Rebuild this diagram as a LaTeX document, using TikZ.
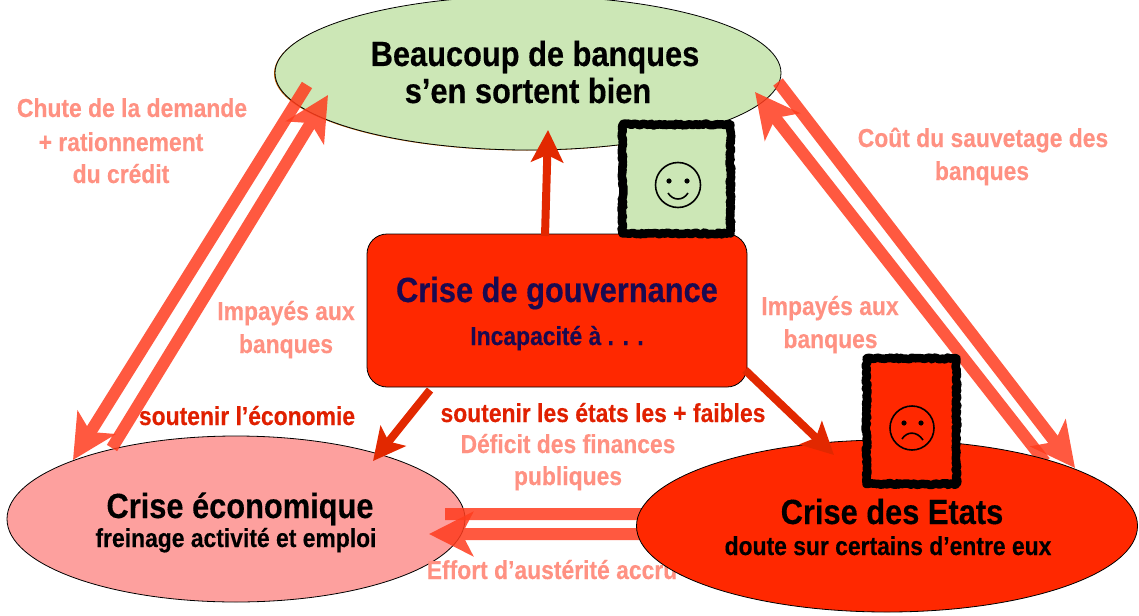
\documentclass[tikz,border=0pt]{standalone}
\usepackage{fontspec}
\setmainfont[FakeStretch=0.88,BoldFeatures={FakeBold=0.3}]{Liberation Sans}
\usetikzlibrary{arrows.meta,shapes.geometric,decorations.pathmorphing}
\definecolor{palearrow}{RGB}{255,60,30}
\definecolor{darkarrow}{RGB}{226,40,0}
\definecolor{paletext}{RGB}{255,145,130}
\definecolor{redtext}{RGB}{224,32,0}
\definecolor{navytext}{RGB}{26,10,80}
\definecolor{leaf}{RGB}{204,231,182}
\definecolor{blush}{RGB}{253,160,158}
\definecolor{alarm}{RGB}{255,40,0}
\tikzset{
  bubble/.style={ellipse,draw=black,line width=0.8pt,inner sep=0pt},
  palelabel/.style={anchor=base,inner sep=0pt,text=paletext,font=\fontsize{26}{26}\selectfont\bfseries},
  redlabel/.style={anchor=base,inner sep=0pt,text=redtext,font=\fontsize{26}{26}\selectfont\bfseries},
  title/.style={anchor=base,inner sep=0pt,text=black,font=\fontsize{35}{35}\selectfont\bfseries},
  subtitle/.style={anchor=base,inner sep=0pt,text=black,font=\fontsize{26}{26}\selectfont\bfseries},
  flowgroup/.style={transparency group,opacity=0.85},
  flow/.style={draw=palearrow,line width=12pt,
    -{Stealth[length=44pt,width=44pt,inset=11pt]}},
  push/.style={draw=darkarrow,line width=8pt,
    -{Stealth[length=32pt,width=32pt,inset=7pt]}},
  roughbox/.style={draw=black,line width=8.5pt,line join=round,
    decorate,decoration={random steps,segment length=2pt,amplitude=1pt}},
  facepart/.style={draw=black,line width=1.6pt}
}
\begin{document}
\begin{tikzpicture}[x=1pt,y=-1pt]
\useasboundingbox (0,0) rectangle (1139,615);
% ellipses under the arrows
\fill[orange!80!black] (527,73.5) ellipse[x radius=253pt,y radius=77pt];
\node[bubble,fill=leaf,minimum width=506pt,minimum height=154pt] (banks) at (528,73) {};
\node[bubble,fill=blush,minimum width=458pt,minimum height=166pt] (eco) at (236,519) {};
% pale flows
\coordinate (a1s) at (307,85);  \coordinate (a1e) at (73,460);
\coordinate (a2s) at (112,448); \coordinate (a2e) at (328,95);
\coordinate (a3s) at (1045,462); \coordinate (a3e) at (755,92);
\coordinate (a4s) at (778,82);  \coordinate (a4e) at (1075,468);
\coordinate (a5s) at (445,514); \coordinate (a5e) at (722,514);
\coordinate (a6s) at (660,534); \coordinate (a6e) at (429,534);
\begin{scope}[flowgroup]\draw[flow] (a1s) -- (a1e);\end{scope}
\begin{scope}[flowgroup]\draw[flow] (a2s) -- (a2e);\end{scope}
\begin{scope}[flowgroup]\draw[flow] (a3s) -- (a3e);\end{scope}
\begin{scope}[flowgroup]\draw[flow] (a4s) -- (a4e);\end{scope}
\begin{scope}[flowgroup]\draw[flow] (a5s) -- (a5e);\end{scope}
\begin{scope}[flowgroup]\draw[flow] (a6s) -- (a6e);\end{scope}
\node[palelabel] (effort) at (552,579) {Effort d’austérité accru};
\node[bubble,fill=alarm,minimum width=501pt,minimum height=172pt] (states) at (887,526) {};
\node[draw=black,line width=0.8pt,fill=alarm,rounded corners=20pt,minimum width=380pt,minimum height=153pt,inner sep=0pt] (gov) at (557,310.5) {};
% dark arrows
\coordinate (b1s) at (545,236); \coordinate (b1e) at (548,130);
\coordinate (b2s) at (430,390); \coordinate (b2e) at (373,461);
\coordinate (b3s) at (745,370); \coordinate (b3e) at (834,455);
\draw[push] (b1s) -- (b1e);
\draw[push] (b2s) -- (b2e);
\draw[push] (b3s) -- (b3e);
% rough boxes
\draw[roughbox,fill=leaf] (622.5,124.5) rectangle (730.5,233.5);
\draw[roughbox,fill=alarm] (866.5,358.5) rectangle (956.5,484);
\draw[facepart] (678,185) circle[radius=22.5pt];
\fill (669,181) circle[radius=2.6pt];
\fill (687,181) circle[radius=2.6pt];
\draw[facepart] (668,193) .. controls (673,201) and (683,201) .. (688,193);
\draw[facepart] (912,428) circle[radius=22pt];
\fill (904,423) circle[radius=2.6pt];
\fill (921,423) circle[radius=2.6pt];
\draw[facepart] (902,439) .. controls (907,431) and (917,431) .. (923,440);
% labels
\node[title] (t1) at (535,66) {Beaucoup de banques};
\node[title] (t2) at (528,103) {s’en sortent bien};
\node[palelabel] (l1) at (132,117) {Chute de la demande};
\node[palelabel] (l2) at (121,151) {+ rationnement};
\node[palelabel] (l3) at (121,183) {du crédit};
\node[palelabel] (r1) at (983,147) {Coût du sauvetage des};
\node[palelabel] (r2) at (982,180) {banques};
\node[palelabel] (i1) at (286,320) {Impayés aux};
\node[palelabel] (i2) at (286,353) {banques};
\node[palelabel] (j1) at (830,315) {Impayés aux};
\node[palelabel] (j2) at (830.5,348) {banques};
\node[redlabel] (s1) at (247,425) {soutenir l’économie};
\node[redlabel] (s2) at (603,422) {soutenir les états les + faibles};
\node[palelabel] (d1) at (568,453) {Déficit des finances};
\node[palelabel] (d2) at (568,485) {publiques};
\node[title,text=navytext] (g1) at (557,302) {Crise de gouvernance};
\node[subtitle,text=navytext] (g2) at (557,345) {Incapacité à . . .};
\node[title] (e1) at (240,518) {Crise économique};
\node[subtitle] (e2) at (236,547) {freinage activité et emploi};
\node[title] (c1) at (892,524) {Crise des Etats};
\node[subtitle] (c2) at (888,555) {doute sur certains d’entre eux};
\end{tikzpicture}
\end{document}
